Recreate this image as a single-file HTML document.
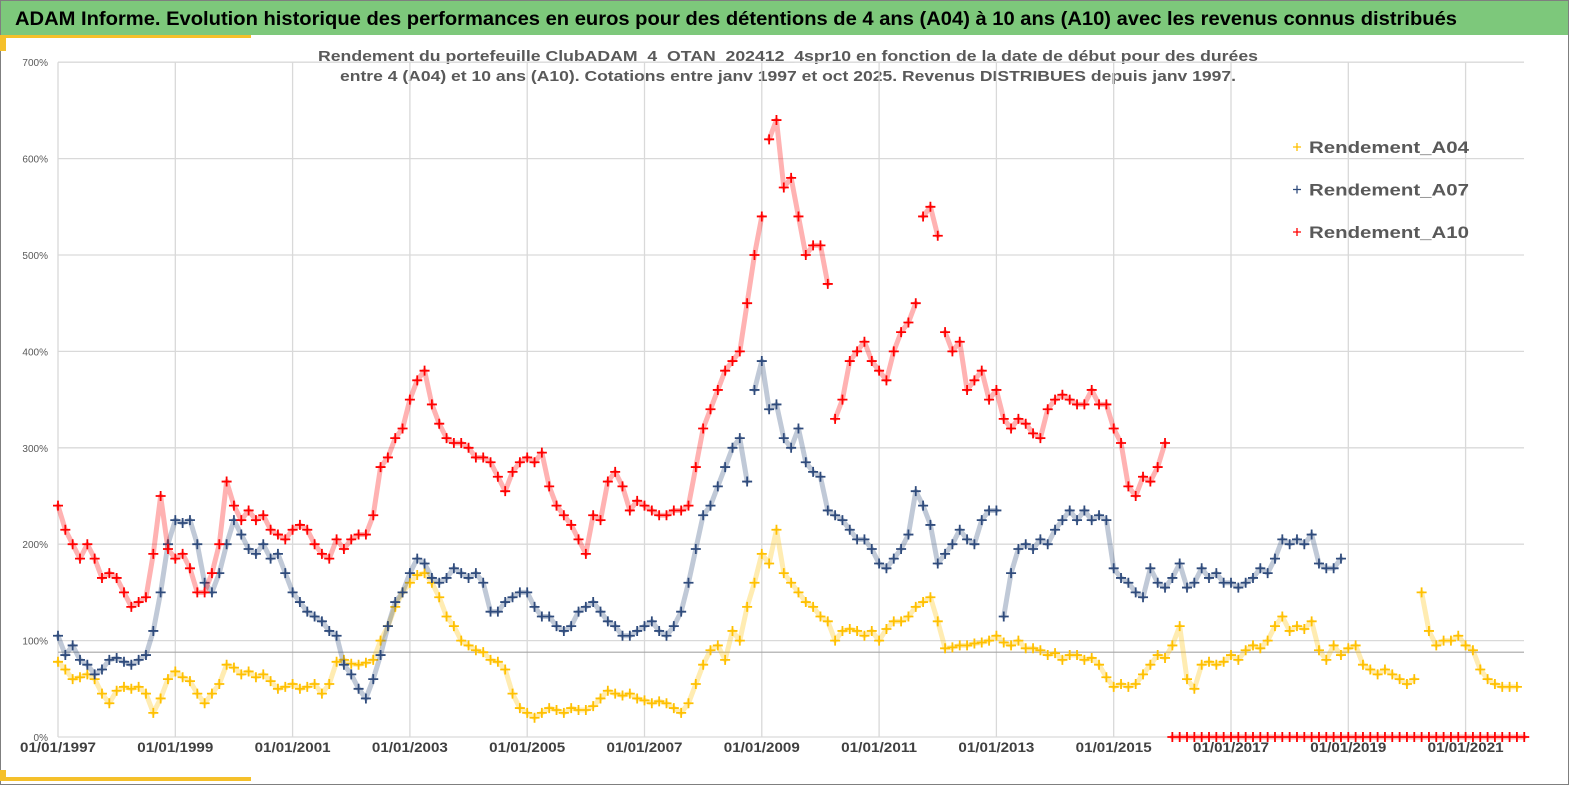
<!DOCTYPE html>
<html><head><meta charset="utf-8">
<style>
body{margin:0;background:#fff;}
#wrap{position:relative;width:1569px;height:785px;overflow:hidden;background:#fff;font-family:"Liberation Sans",sans-serif;}
</style></head><body>
<div id="wrap">
<svg id="svg" width="1569" height="785" xmlns="http://www.w3.org/2000/svg">
<rect x="0" y="0" width="1569" height="785" fill="#fff" stroke="#7f7f7f" stroke-width="2"/>
<rect x="1" y="1" width="1567" height="34" fill="#7dc87b"/>
<rect x="0" y="35" width="251" height="3" fill="#f5c02a"/>
<rect x="0" y="35" width="6" height="16" fill="#f5c02a"/>
<rect x="0" y="777" width="251" height="4" fill="#f5c02a"/>
<rect x="0" y="770" width="6" height="11" fill="#f5c02a"/>
<text x="15" y="25" font-size="19.5" font-weight="bold" fill="#000" textLength="1442" lengthAdjust="spacingAndGlyphs">ADAM Informe. Evolution historique des performances en euros pour des détentions de 4 ans (A04) à 10 ans (A10) avec les revenus connus distribués</text>
<text x="318" y="61" font-size="14.5" font-weight="bold" fill="#595959" textLength="940" lengthAdjust="spacingAndGlyphs">Rendement du portefeuille ClubADAM_4_OTAN_202412_4spr10  en fonction de la date de début pour des durées</text>
<text x="340" y="81" font-size="14.5" font-weight="bold" fill="#595959" textLength="896" lengthAdjust="spacingAndGlyphs">entre 4 (A04) et 10 ans (A10). Cotations entre janv 1997 et oct 2025. Revenus DISTRIBUES depuis janv 1997.</text>
<g id="grid"></g>
<g id="marks"></g>
<g id="legend"></g>
</svg>
</div>
<script>
const yTicks=[0,100,200,300,400,500,600,700];
const yTickLabels=["0%","100%","200%","300%","400%","500%","600%","700%"];
const xTickYears=[1997,1999,2001,2003,2005,2007,2009,2011,2013,2015,2017,2019,2021];
const xTickLabels=["01/01/1997","01/01/1999","01/01/2001","01/01/2003","01/01/2005","01/01/2007","01/01/2009","01/01/2011","01/01/2013","01/01/2015","01/01/2017","01/01/2019","01/01/2021"];
const refLine=88;
const startYear=1997;
const stepYear=0.125;
const a04=[78,70,60,62,65,60,45,35, 48,52,50,52,45,25,40,60, 68,62,58,45,35,45,55,75, 72,65,68,62,65,58,50,52,
55,50,52,55,45,55,78,80, 76,75,77,80,100,115,135,150, 160,168,170,160,145,125,115,100, 95,90,88,80,78,70,45,30,
25,20,25,30,28,25,30,28, 28,32,40,48,45,43,45,40, 38,35,37,35,30,25,35,55, 75,90,95,80,110,100,135,160,
190,180,215,170,160,150,140,135, 125,120,100,110,112,110,105,110, 100,112,120,120,125,135,140,145, 120,92,93,95,95,97,98,100,
105,98,95,100,92,92,90,85, 87,80,85,85,80,82,75,62, 52,55,52,55,65,75,85,82, 95,115,60,50,75,78,75,78,
85,80,90,95,92,100,115,125, 110,115,112,120,90,80,95,85, 92,95,75,70,65,70,65,60, 55,60,150,110,95,100,100,105,
95,90,70,60,55,52,52,52];
const a07=[105,85,95,80,75,65,70,80, 82,78,75,80,85,110,150,200, 225,222,225,200,160,150,170,200, 225,210,195,190,200,185,190,170,
150,140,130,125,120,110,105,75, 65,50,40,60,85,115,140,150, 170,185,180,165,160,165,175,170, 165,170,160,130,130,140,145,150,
150,135,125,125,115,110,115,130, 135,140,130,120,115,105,105,110, 115,120,110,105,115,130,160,195, 230,240,260,280,300,310,265,360,
390,340,345,310,300,320,285,275, 270,235,230,225,215,205,205,195, 180,175,185,195,210,255,240,220, 180,190,200,215,205,200,225,235,
235,125,170,195,200,195,205,200, 215,225,235,225,235,225,230,225, 175,165,160,150,145,175,160,155, 165,180,155,160,175,165,170,160,
160,155,160,165,175,170,185,205, 200,205,200,210,180,175,175,185];
const a10=[240,215,200,185,200,185,165,170, 165,150,135,140,145,190,250,195, 185,190,175,150,150,170,200,265, 240,225,235,225,230,215,210,205,
215,220,215,200,190,185,205,195, 205,210,210,230,280,290,310,320, 350,370,380,345,325,310,305,305, 300,290,290,285,270,255,275,285,
290,285,295,260,240,230,220,205, 190,230,225,265,275,260,235,245, 240,235,230,230,235,235,240,280, 320,340,360,380,390,400,450,500,
540,620,640,570,580,540,500,510, 510,470,330,350,390,400,410,390, 380,370,400,420,430,450,540,550, 520,420,400,410,360,370,380,350,
360,330,320,330,325,315,310,340, 350,355,350,345,345,360,345,345, 320,305,260,250,270,265,280,305,
0,0,0,0,0,0,0,0, 0,0,0,0,0,0,0,0, 0,0,0,0,0,0,0,0, 0,0,0,0,0,0,0,0, 0,0,0,0,0,0,0,0, 0,0,0,0,0,0,0,0, 0];
const seriesNames=["Rendement_A04","Rendement_A07","Rendement_A10"];
const seriesColors=["#ffc000","#2f4b7c","#ff0000"];

const NS="http://www.w3.org/2000/svg";
const X0=58, PXYEAR=58.65, Y0=737, PXPCT=0.964, XEND=1524;
function xScale(t){return X0+(t-1997)*PXYEAR;}
function yScale(v){return Y0-v*PXPCT;}
function mk(tag,attrs,parent){const e=document.createElementNS(NS,tag);for(const k in attrs)e.setAttribute(k,attrs[k]);parent.appendChild(e);return e;}
const grid=document.getElementById('grid'), marks=document.getElementById('marks'), legend=document.getElementById('legend');
yTicks.forEach((v,i)=>{
  const l=mk('line',{x1:X0,x2:XEND,y1:yScale(v),y2:yScale(v),stroke:'#d9d9d9','stroke-width':1.3},grid);
  
  
  const t=mk('text',{x:48,y:yScale(v)+4,'font-size':10,'text-anchor':'end',fill:'#595959'},grid);
  t.textContent=yTickLabels[i];
  
  
});
xTickYears.forEach((yr,i)=>{
  const x=xScale(yr);
  const l=mk('line',{x1:x,x2:x,y1:yScale(700),y2:Y0,stroke:'#d9d9d9','stroke-width':1.3},grid);
  
  
  const t=mk('text',{x:x-38,y:752,'font-size':14,'font-weight':'bold',fill:'#404040',textLength:76,lengthAdjust:'spacingAndGlyphs'},grid);
  t.textContent=xTickLabels[i];
  
  
});
const rl=mk('line',{x1:X0,x2:XEND,y1:yScale(refLine),y2:yScale(refLine),stroke:'#a6a6a6','stroke-width':1.2},grid);



function drawSeries(arr,color,name){
  const g=mk('g',{stroke:color,fill:'none'},marks);
  
  
  let pl='';
  let d='';
  arr.forEach((v,i)=>{
    const x=xScale(startYear+i*stepYear), y=yScale(v), s=5;
    const jump = i===0 || Math.abs(v-arr[i-1])>75;
    pl+=(jump?'M':'L')+x+','+y;
    d+=`M${x-s},${y}H${x+s}M${x},${y-s}V${y+s}`;
  });
  const c=mk('path',{d:pl,'stroke-width':5,opacity:0.3,'stroke-linejoin':'round','stroke-linecap':'round'},g);
  
  
  const p=mk('path',{d:d,'stroke-width':1.8},g);
  
  
}
drawSeries(a04,seriesColors[0],'rendement-a04');
drawSeries(a07,seriesColors[1],'rendement-a07');
drawSeries(a10,seriesColors[2],'rendement-a10');

seriesNames.forEach((n,i)=>{
  const y=147+i*42.5;
  const g=mk('g',{},legend);
  
  
  mk('path',{d:`M${1293},${y}H${1301}M${1297},${y-4}V${y+4}`,stroke:seriesColors[i],'stroke-width':1.3},g);
  const t=mk('text',{x:1309,y:y+6,'font-size':17,'font-weight':'bold',fill:'#595959',textLength:160,lengthAdjust:'spacingAndGlyphs'},g);
  t.textContent=n;
});
</script>
</body></html>
